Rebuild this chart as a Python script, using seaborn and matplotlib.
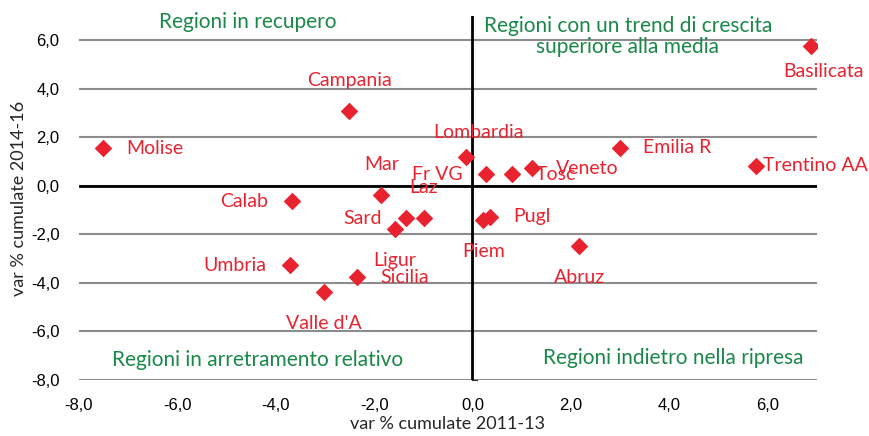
import pandas as pd
import matplotlib.pyplot as plt
import seaborn as sns

# var % cumulate 2011-13 (x) and 2014-16 (y)
regioni = ['Molise', 'Campania', 'Calab', 'Mar', 'Sard', 'Laz', 'Ligur',
           'Umbria', 'Sicilia', "Valle d'A", 'Lombardia', 'Fr VG', 'Tosc',
           'Veneto', 'Emilia R', 'Trentino AA', 'Basilicata', 'Pugl', 'Piem',
           'Abruz']
var_2011_13 = [-7.51, -2.51, -3.67, -1.85, -1.36, -0.99, -1.58,
               -3.71, -2.35, -3.02, -0.14, 0.28, 0.80,
               1.22, 2.99, 5.76, 6.88, 0.35, 0.22,
               2.17]
var_2014_16 = [1.55, 3.07, -0.63, -0.38, -1.34, -1.34, -1.78,
               -3.27, -3.76, -4.38, 1.18, 0.47, 0.48,
               0.72, 1.58, 0.82, 5.76, -1.27, -1.41,
               -2.47]
# where each label sits relative to its marker
pos_label = ['right', 'above', 'left', 'above', 'left', 'above', 'below',
             'left', 'right', 'below', 'above_r', 'left', 'right',
             'right', 'right', 'right_close', 'below_r', 'right', 'below',
             'below']

quadranti = ['Regioni in recupero',
             'Regioni con un trend di crescita\nsuperiore alla media',
             'Regioni in arretramento relativo',
             'Regioni indietro nella ripresa']
quad_x = [-4.57, 3.16, -4.37, 4.09]
quad_y = [6.74, 6.16, -7.18, -7.10]

df = pd.DataFrame({'regione': regioni, 'x': var_2011_13, 'y': var_2014_16,
                   'pos': pos_label})

rosso = '#E8232F'
verde = '#1A8848'
font_lab = ['Lato', 'DejaVu Sans']

sns.set_style('white')
plt.rcParams['font.family'] = ['Liberation Sans', 'DejaVu Sans']

fig = plt.figure(figsize=(8.69, 4.36), dpi=100)
ax = fig.add_axes([0.0909, 0.1284, 0.849, 0.835])

sns.scatterplot(data=df, x='x', y='y', marker='D', s=80, color=rosso,
                edgecolor=rosso, linewidth=0, ax=ax, zorder=5)

ax.set_xlim(-8, 7)
ax.set_ylim(-8, 7)
ax.set_xticks(range(-8, 7, 2))
ax.set_yticks(range(-8, 7, 2))
ax.xaxis.set_major_formatter(lambda v, p: f'{v:.1f}'.replace('.', ','))
ax.yaxis.set_major_formatter(lambda v, p: f'{v:.1f}'.replace('.', ','))
ax.tick_params(length=0, labelsize=12, colors='black')
ax.tick_params(axis='x', pad=13)
ax.tick_params(axis='y', pad=14)
for s in ax.spines.values():
    s.set_visible(False)
ax.yaxis.grid(True, color='#8c8c8c', linewidth=1.5)
ax.set_axisbelow(True)
ax.axhline(0, color='black', linewidth=2, zorder=3)
ax.axvline(0, color='black', linewidth=2, zorder=3)

# small tick marks on the vertical axis through x = 0
sec = ax.secondary_yaxis(8 / 15)
sec.set_yticks(range(-8, 7, 2))
sec.set_yticklabels([])
sec.tick_params(length=4, width=1.2, direction='out', color='black')
sec.spines['left'].set_visible(False)

ax.set_xlabel('var % cumulate 2011-13', fontsize=13, labelpad=2,
              family=font_lab)
ax.set_ylabel('var % cumulate 2014-16', fontsize=13, labelpad=3,
              family=font_lab)

offsets = {'right': ((17, 0), 'left', 'center'),
           'right_close': ((5, 0), 'left', 'center'),
           'left': ((-17, 0), 'right', 'center'),
           'above': ((0, 22), 'center', 'center'),
           'above_r': ((9, 18), 'center', 'center'),
           'below': ((0, -22.5), 'center', 'center'),
           'below_r': ((9, -18), 'center', 'center')}
for _, r in df.iterrows():
    off, ha, va = offsets[r['pos']]
    ax.annotate(r['regione'], (r['x'], r['y']), xytext=off,
                textcoords='offset points', ha=ha, va=va, color=rosso,
                fontsize=14, family=font_lab)

for t, qx, qy in zip(quadranti, quad_x, quad_y):
    ax.text(qx, qy, t, ha='center', va='center', color=verde, fontsize=15,
            family=font_lab, linespacing=1.1, clip_on=False)

fig.savefig('out.png', dpi=100)
